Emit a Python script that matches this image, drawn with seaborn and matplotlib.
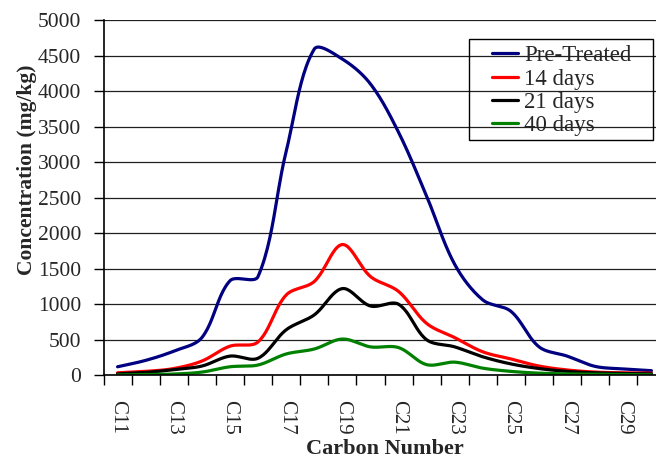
import numpy as np
import pandas as pd
import matplotlib
matplotlib.use("Agg")
import matplotlib.pyplot as plt
from matplotlib.patches import Rectangle
import seaborn as sns

# ---- data ----
carbons = [f"C{n}" for n in range(11, 31)]
pre_treated = [120, 210, 340, 530, 1330, 1390, 3150, 4590, 4450, 4100,
               3420, 2520, 1560, 1060, 900, 400, 270, 125, 90, 65]
days_14 = [35, 55, 95, 200, 410, 470, 1130, 1320, 1840, 1390,
           1180, 730, 530, 330, 230, 130, 75, 45, 35, 30]
days_21 = [20, 40, 80, 130, 270, 240, 640, 850, 1220, 975,
           1000, 500, 400, 260, 160, 95, 55, 35, 25, 20]
days_40 = [5, 10, 18, 45, 120, 145, 300, 370, 510, 400,
           390, 150, 185, 100, 55, 30, 20, 15, 10, 8]
series_names = ["Pre-Treated", "14 days", "21 days", "40 days"]
series_values = [pre_treated, days_14, days_21, days_40]
colors = ["#000080", "#FF0000", "#000000", "#008000"]
tick_labels = carbons[::2]

# pixel scale of one category step and of one y unit (for Excel-like smoothing)
PX_X = 28.1
PX_Y = 355.3 / 5000.0


def smooth(y, steps=24):
    """Excel-style smoothed line: Bezier segments through every data point,
    control points weighted by on-screen chord length."""
    y = np.asarray(y, dtype=float)
    n = len(y)
    P = np.column_stack([np.arange(n, dtype=float), y])
    S = np.column_stack([P[:, 0] * PX_X, P[:, 1] * PX_Y])
    d = np.hypot(np.diff(S[:, 0]), np.diff(S[:, 1]))
    xs, ys = [], []
    for i in range(n - 1):
        p1, p2 = P[i], P[i + 1]
        p0 = P[i - 1] if i > 0 else P[i]
        p3 = P[i + 2] if i + 2 < n else P[i + 1]
        d0 = d[i - 1] if i > 0 else 0.0
        d1 = d[i]
        d2 = d[i + 1] if i + 2 < n else 0.0
        c1 = p1 + (p2 - p0) * d1 / (3.0 * (d0 + d1))
        c2 = p2 - (p3 - p1) * d1 / (3.0 * (d1 + d2))
        t = np.linspace(0, 1, steps, endpoint=(i == n - 2))[:, None]
        b = ((1 - t) ** 3) * p1 + 3 * ((1 - t) ** 2) * t * c1 \
            + 3 * (1 - t) * t ** 2 * c2 + t ** 3 * p2
        xs.append(b[:, 0])
        ys.append(b[:, 1])
    return np.concatenate(xs), np.concatenate(ys)


frames = []
for name, vals in zip(series_names, series_values):
    xx, yy = smooth(vals)
    frames.append(pd.DataFrame({"x": xx, "y": yy, "series": name}))
df = pd.concat(frames, ignore_index=True)

sns.set_style("white")
plt.rcParams["font.family"] = ["Liberation Serif", "DejaVu Serif"]

fig = plt.figure(figsize=(6.56, 4.59), dpi=100)
ax = fig.add_axes([103.5 / 656, 83.7 / 459, 562 / 656, (439 - 83.7) / 459])

sns.lineplot(data=df, x="x", y="y", hue="series", palette=colors,
             hue_order=series_names, sort=False, estimator=None,
             linewidth=2.3, ax=ax, legend=True)

ax.set_xlim(-0.5, 19.5)
ax.set_ylim(0, 5000)
ax.set_yticks(np.arange(0, 5001, 500))
ax.yaxis.grid(True, color="#202020", linewidth=0.9)
ax.set_axisbelow(True)

# category axis: ticks between categories, labels on every other category
ax.set_xticks(np.arange(-0.5, 20.0, 1.0))
ax.set_xticklabels([])
ax.set_xticks(np.arange(0, 20, 2), minor=True)
ax.set_xticklabels(tick_labels, minor=True, rotation=-90, fontsize=15)
ax.tick_params(axis="x", which="major", direction="out", length=7, width=1,
               color="black", bottom=True)
ax.tick_params(axis="x", which="minor", length=0, pad=18)
ax.tick_params(axis="y", direction="out", length=7, width=1, color="black",
               labelsize=15.5, pad=9, left=True)

for side in ["top", "right"]:
    ax.spines[side].set_visible(False)
for side in ["left", "bottom"]:
    ax.spines[side].set_color("black")
    ax.spines[side].set_linewidth(1.2)

ax.set_xlabel("Carbon Number", fontsize=16, fontweight="bold", va="top")
ax.xaxis.set_label_coords(0.5, (375.3 - 439) / 355.3)
ax.set_ylabel("Concentration (mg/kg)", fontsize=15.5, fontweight="bold")
ax.yaxis.set_label_coords((37 - 103.5) / 562, (375.3 - 170) / 355.3)

handles, labels = ax.get_legend_handles_labels()
leg = ax.legend(handles, labels, loc="upper left",
                bbox_to_anchor=(490 / 656, 1 - 43 / 459),
                bbox_transform=fig.transFigure,
                fontsize=16.5, frameon=False,
                handlelength=1.1, handletextpad=0.3, labelspacing=0.1,
                borderpad=0.1, borderaxespad=0)
for line in leg.get_lines():
    line.set_linewidth(2.3)

# legend box as in the reference (wider padding left/right than top/bottom)
fig.patches.append(Rectangle((469 / 656, 1 - 140 / 459), (653 - 469) / 656,
                             (140 - 39) / 459, transform=fig.transFigure,
                             facecolor="none", edgecolor="black",
                             linewidth=1.0, zorder=5))

fig.savefig("out.png", dpi=100)
